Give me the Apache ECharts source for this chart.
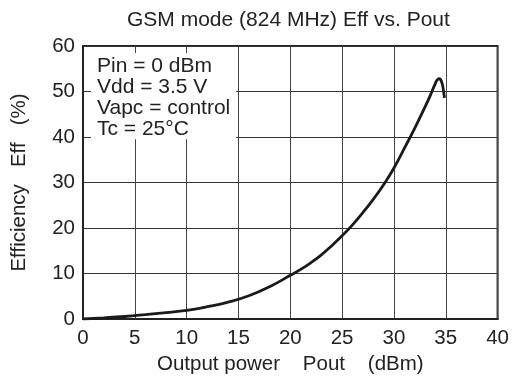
<!DOCTYPE html>
<html>
<head>
<meta charset="utf-8">
<script src="https://cdn.jsdelivr.net/npm/echarts@6/dist/echarts.min.js"></script>
<style>html,body{margin:0;padding:0;background:#fff;}#c{width:512px;height:389px;}</style>
</head>
<body>
<div id="c"></div>
<script>
var titleText = 'GSM mode (824 MHz) Eff vs. Pout';
var conditions = ['Pin = 0 dBm', 'Vdd = 3.5 V', 'Vapc = control', 'Tc = 25\u00B0C'];
var xName = 'Output power    Pout    (dBm)';
var yName = 'Efficiency   Eff   (%)';
var poutValues = [0, 2, 4, 6, 8, 10, 12, 14, 16, 18, 20, 21, 22, 23, 24, 25, 26, 27, 28, 29, 30, 31, 32, 33, 33.5, 34.0, 34.2, 34.4, 34.6, 34.75, 34.87];
var effValues  = [0, 0.25, 0.55, 0.95, 1.4, 1.9, 2.7, 3.7, 5.1, 7.1, 9.6, 10.9, 12.4, 14.1, 16.1, 18.3, 20.7, 23.4, 26.3, 29.5, 33.2, 37.5, 41.9, 46.6, 49.1, 51.8, 52.6, 52.8, 52.1, 50.6, 48.6];

var font = '"Liberation Sans", Arial, Helvetica, sans-serif';
var data = poutValues.map(function (x, i) { return [x, effValues[i]]; });

var chart = echarts.init(document.getElementById('c'), null, {renderer: 'canvas'});
chart.setOption({
  animation: false,
  backgroundColor: '#fff',
  title: [{
    text: titleText,
    left: 127, top: 10,
    padding: 0,
    textStyle: {fontFamily: font, fontSize: 21, fontWeight: 'normal', color: '#222'}
  }, {
    text: conditions.join('\n'),
    left: 91, top: 53,
    backgroundColor: '#fff',
    padding: [3, 6, 0, 6],
    textStyle: {fontFamily: font, fontSize: 21, fontWeight: 'normal', color: '#222', lineHeight: 20.8}
  }],
  grid: {left: 83, right: 13, top: 46, bottom: 70, show: true, borderColor: '#222', borderWidth: 2, containLabel: false},
  xAxis: {
    type: 'value', min: 0, max: 40, interval: 5,
    name: xName, nameLocation: 'middle', nameGap: 35,
    nameTextStyle: {fontFamily: font, fontSize: 20.5, color: '#222'},
    axisLine: {show: true, lineStyle: {color: '#222', width: 2}},
    axisTick: {show: false},
    axisLabel: {fontFamily: font, fontSize: 20.5, color: '#222', margin: 9},
    splitLine: {show: true, lineStyle: {color: '#444', width: 1}}
  },
  yAxis: {
    type: 'value', min: 0, max: 60, interval: 10,
    name: yName, nameLocation: 'middle', nameGap: 53,
    nameTextStyle: {fontFamily: font, fontSize: 20.5, color: '#222'},
    axisLine: {show: true, lineStyle: {color: '#222', width: 2}},
    axisTick: {show: false},
    axisLabel: {fontFamily: font, fontSize: 20.5, color: '#222', margin: 8},
    splitLine: {show: true, lineStyle: {color: '#333', width: 1}}
  },
  series: [{
    type: 'line',
    data: data,
    showSymbol: false,
    smooth: 0.5,
    lineStyle: {color: '#1a1a1a', width: 2.8},
    z: 1
  }]
});
</script>
</body>
</html>
